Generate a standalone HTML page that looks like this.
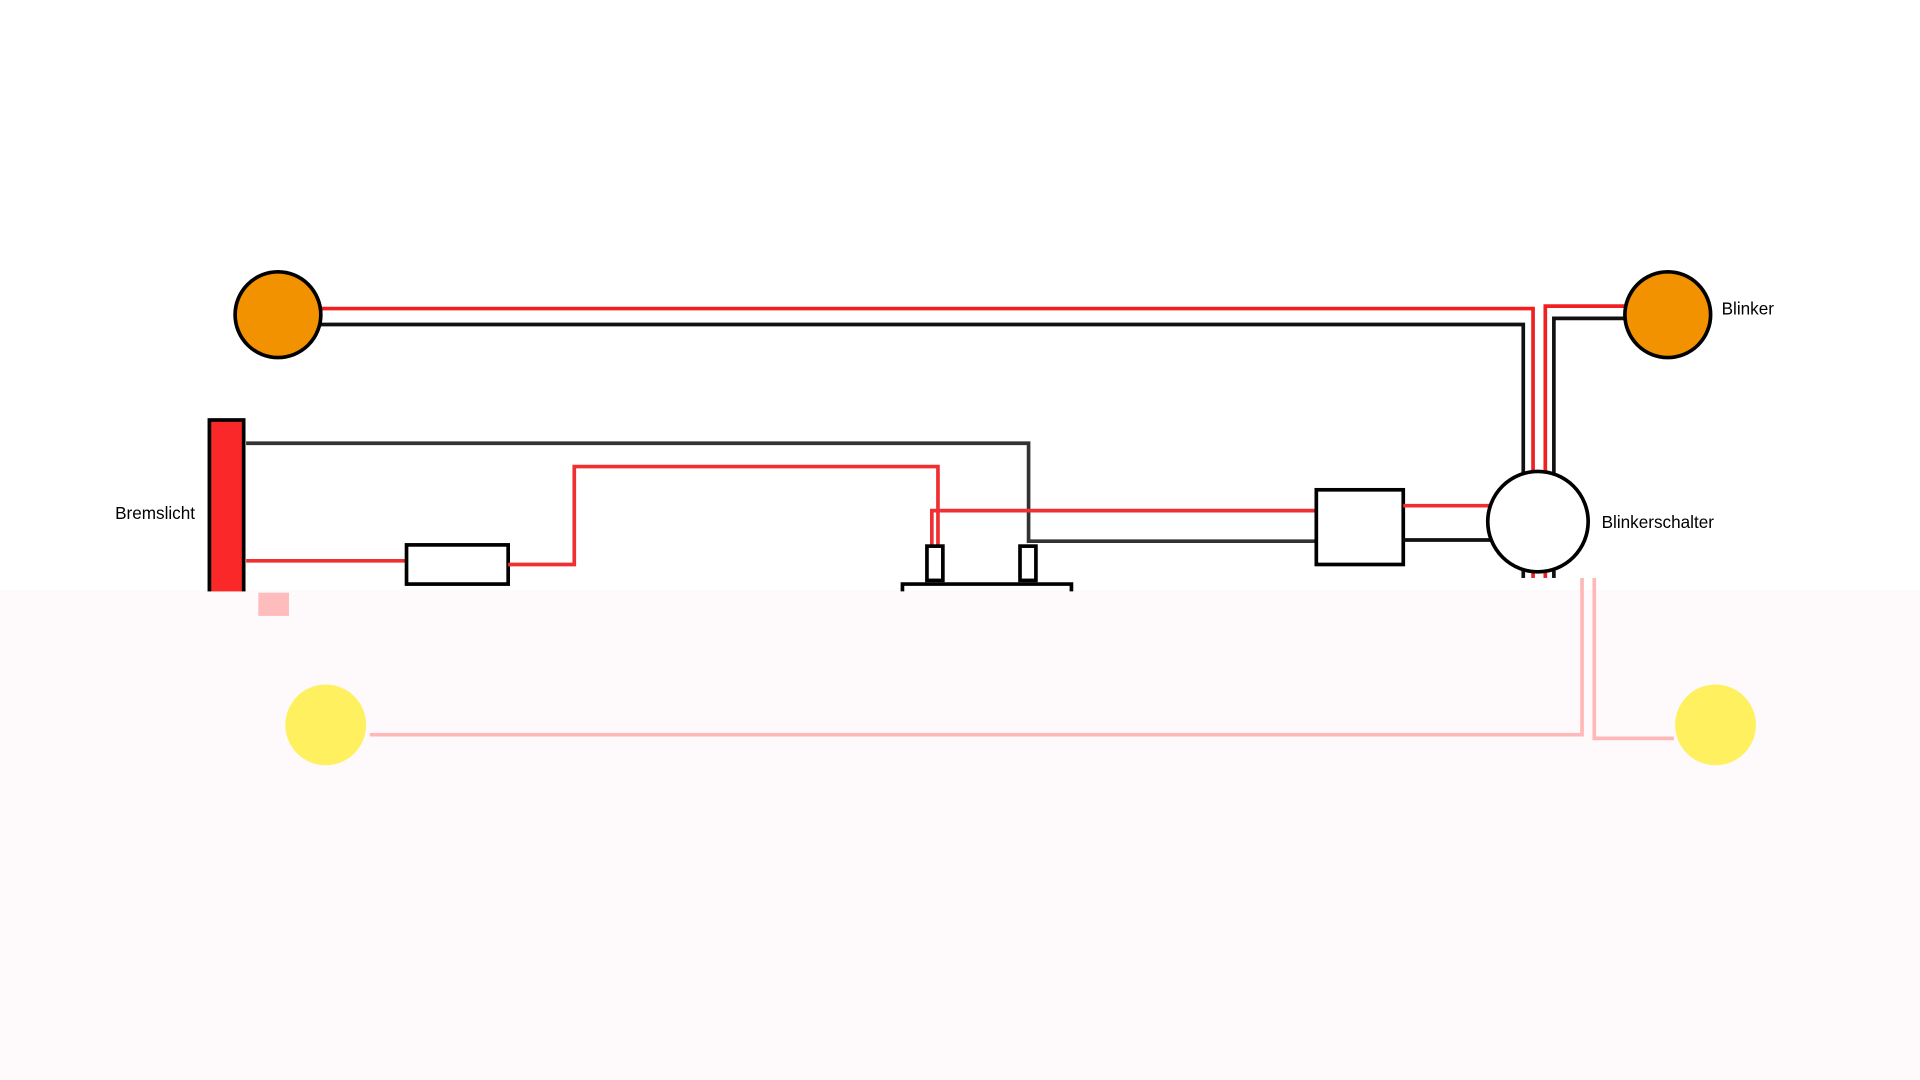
<!DOCTYPE html>
<html><head><meta charset="utf-8"><style>
html,body{margin:0;padding:0;background:#fff;}
svg{display:block;}
text{font-family:"Liberation Sans",sans-serif;font-size:14px;fill:#000;}
</style></head><body>
<svg width="1920" height="1080" viewBox="0 0 1568 882" preserveAspectRatio="none" xmlns="http://www.w3.org/2000/svg">
<rect x="0" y="0" width="1568" height="882" fill="#fff"/>
<rect x="0" y="482" width="1568" height="400" fill="#fefafc"/>
<!-- top wires -->
<polyline points="262,252 1252,252 1252,388" fill="none" stroke="#f02020" stroke-width="3"/>
<polyline points="262,265 1244,265 1244,388" fill="none" stroke="#111" stroke-width="3"/>
<polyline points="1330,250 1262,250 1262,388" fill="none" stroke="#f02020" stroke-width="3"/>
<polyline points="1330,260 1269,260 1269,388" fill="none" stroke="#111" stroke-width="3"/>
<polyline points="1244,466 1244,472" stroke="#111" stroke-width="3"/>
<polyline points="1252,466 1252,472" stroke="#f02020" stroke-width="3"/>
<polyline points="1262,466 1262,472" stroke="#f02020" stroke-width="3"/>
<polyline points="1269,466 1269,472" stroke="#111" stroke-width="3"/>
<circle cx="227" cy="257" r="35" fill="#f39200" stroke="#000" stroke-width="3"/>
<circle cx="1362" cy="257" r="35" fill="#f39200" stroke="#000" stroke-width="3"/>
<text x="1406" y="257">Blinker</text>
<!-- brake light -->
<rect x="171" y="343" width="28" height="142" fill="#fa2828" stroke="#000" stroke-width="3"/>
<rect x="168" y="483" width="34" height="10" fill="#fefafc"/>
<text x="94" y="424">Bremslicht</text>
<rect x="211" y="484" width="25" height="19" fill="#ffbcbc"/>
<polyline points="201,362 840,362 840,442 1075,442" fill="none" stroke="#333" stroke-width="3"/>
<polyline points="201,458 332,458" stroke="#f03030" stroke-width="3"/>
<rect x="332" y="445" width="83" height="32" fill="#fff" stroke="#000" stroke-width="3"/>
<polyline points="415,461 469,461 469,381 766,381 766,447" fill="none" stroke="#f03030" stroke-width="3"/>
<polyline points="761,447 761,417 1075,417" fill="none" stroke="#f03030" stroke-width="3"/>
<rect x="757" y="446" width="13" height="28" fill="#fff" stroke="#000" stroke-width="3"/>
<rect x="833" y="446" width="13" height="28" fill="#fff" stroke="#000" stroke-width="3"/>
<polyline points="737,483 737,477 875,477 875,483" fill="none" stroke="#000" stroke-width="3"/>
<!-- relay box -->
<rect x="1075" y="400" width="71" height="61" fill="#fff" stroke="#000" stroke-width="3"/>
<polyline points="1146,413 1217,413" stroke="#f03030" stroke-width="3"/>
<polyline points="1146,441 1217,441" stroke="#111" stroke-width="3"/>
<circle cx="1256" cy="426" r="41" fill="#fff" stroke="#000" stroke-width="3"/>
<text x="1308" y="431">Blinkerschalter</text>
<!-- faded lower -->
<polyline points="302,600 1292,600 1292,472" fill="none" stroke="#ffb8b8" stroke-width="3"/>
<polyline points="1302,472 1302,603 1367,603" fill="none" stroke="#ffb8b8" stroke-width="3"/>
<circle cx="266" cy="592" r="33" fill="#fff060"/>
<circle cx="1401" cy="592" r="33" fill="#fff060"/>
</svg>
</body></html>
